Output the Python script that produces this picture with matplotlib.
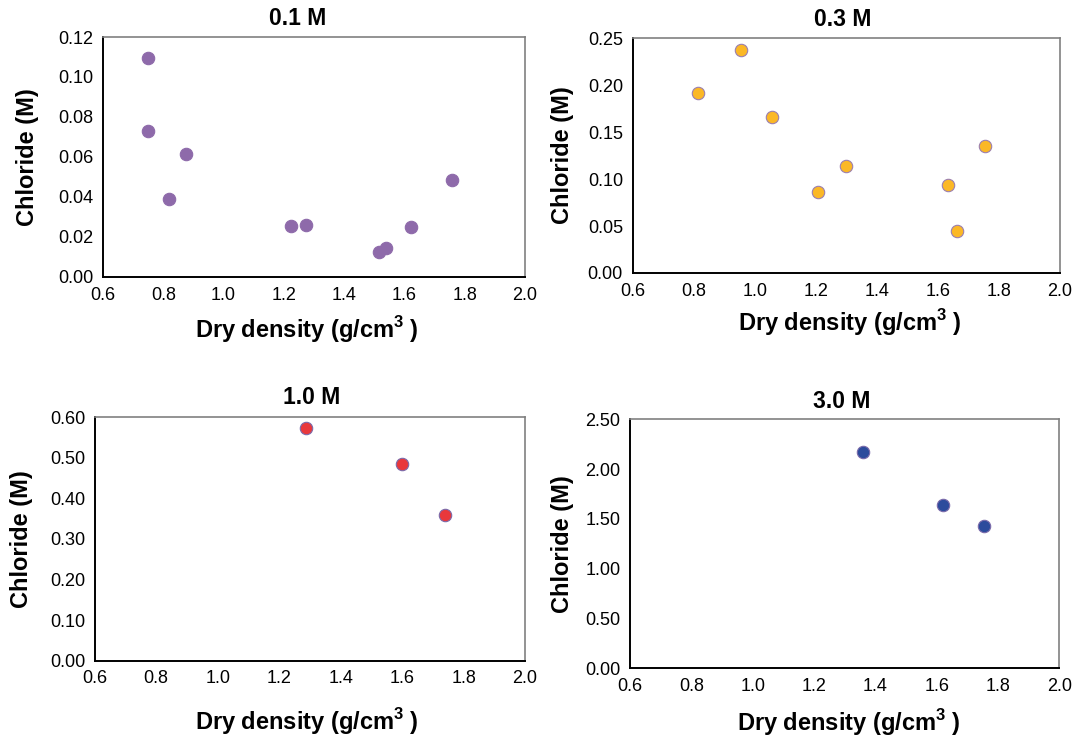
import matplotlib
matplotlib.use('Agg')
import matplotlib.pyplot as plt

plt.rcParams['font.family'] = ['Liberation Sans', 'DejaVu Sans']
plt.rcParams['mathtext.fontset'] = 'custom'
plt.rcParams['mathtext.rm'] = 'Liberation Sans'
plt.rcParams['mathtext.bf'] = 'Liberation Sans:bold'

# dry density (g/cm3) vs chloride (M) for each bath concentration
DENS_01 = [0.748, 0.750, 0.874, 0.820, 1.222, 1.272, 1.514, 1.540, 1.620, 1.757]
CL_01   = [0.1095, 0.0730, 0.0613, 0.0388, 0.0253, 0.0260, 0.0125, 0.0143, 0.0248, 0.0485]

DENS_03 = [0.815, 0.954, 1.057, 1.206, 1.298, 1.634, 1.662, 1.753]
CL_03   = [0.1918, 0.2376, 0.1662, 0.0863, 0.1140, 0.0937, 0.0444, 0.1353]

DENS_10 = [1.286, 1.599, 1.739]
CL_10   = [0.573, 0.484, 0.3585]

DENS_30 = [1.361, 1.621, 1.755]
CL_30   = [2.172, 1.640, 1.429]

X_TICKS = [0.6, 0.8, 1.0, 1.2, 1.4, 1.6, 1.8, 2.0]

PANELS = [
    # title, x, y, yticks, face, edge, axes rect, title pos, xlabel pos, ylabel pos
    ('0.1 M', DENS_01, CL_01, [0, 0.02, 0.04, 0.06, 0.08, 0.10, 0.12], '#8E6AAA', '#8E6AAA',
     [0.0959, 0.6257, 0.3930, 0.3243], (0.46, 1.079), (0.483, -0.221), (-0.178, 0.5)),
    ('0.3 M', DENS_03, CL_03, [0, 0.05, 0.10, 0.15, 0.20, 0.25], '#FBB826', '#9B7FAF',
     [0.5891, 0.6311, 0.3979, 0.3172], (0.492, 1.078), (0.509, -0.213), (-0.165, 0.5)),
    ('1.0 M', DENS_10, CL_10, [0, 0.1, 0.2, 0.3, 0.4, 0.5, 0.6], '#E8383C', '#7A6AAA',
     [0.0882, 0.1072, 0.4007, 0.3289], (0.503, 1.083), (0.493, -0.252), (-0.169, 0.5)),
    ('3.0 M', DENS_30, CL_30, [0, 0.5, 1.0, 1.5, 2.0, 2.5], '#2C4B9C', '#7A6AAA',
     [0.5866, 0.0969, 0.3997, 0.3365], (0.494, 1.073), (0.51, -0.216), (-0.158, 0.5)),
]

fig = plt.figure(figsize=(10.74, 7.4), dpi=100)

for title, xs, ys, yticks, face, edge, rect, tpos, xlpos, ylpos in PANELS:
    ax = fig.add_axes(rect)
    ax.scatter(xs, ys, s=80, c=face, edgecolors=edge, linewidths=0.8, zorder=3)

    ax.set_xlim(0.6, 2.0)
    ax.set_ylim(0, yticks[-1])
    ax.set_xticks(X_TICKS)
    ax.set_xticklabels([f'{t:.1f}' for t in X_TICKS])
    ax.set_yticks(yticks)
    ax.set_yticklabels([f'{t:.2f}' for t in yticks])
    ax.tick_params(length=0, labelsize=13, pad=7)

    for side in ['left', 'bottom']:
        ax.spines[side].set_color('black')
        ax.spines[side].set_linewidth(1.4)
    for side in ['top', 'right']:
        ax.spines[side].set_color('#808080')
        ax.spines[side].set_linewidth(1.2)

    ax.text(tpos[0], tpos[1], title, transform=ax.transAxes, ha='center', va='center',
            fontsize=16.5, fontweight='bold')
    ax.set_xlabel(r'Dry density (g/cm$^{\mathbf{3}}$ )', fontsize=17, fontweight='bold',
                  va='center')
    ax.xaxis.set_label_coords(*xlpos)
    ax.set_ylabel('Chloride (M)', fontsize=17, fontweight='bold', va='center')
    ax.yaxis.set_label_coords(*ylpos)

fig.savefig('out.png', dpi=100)
